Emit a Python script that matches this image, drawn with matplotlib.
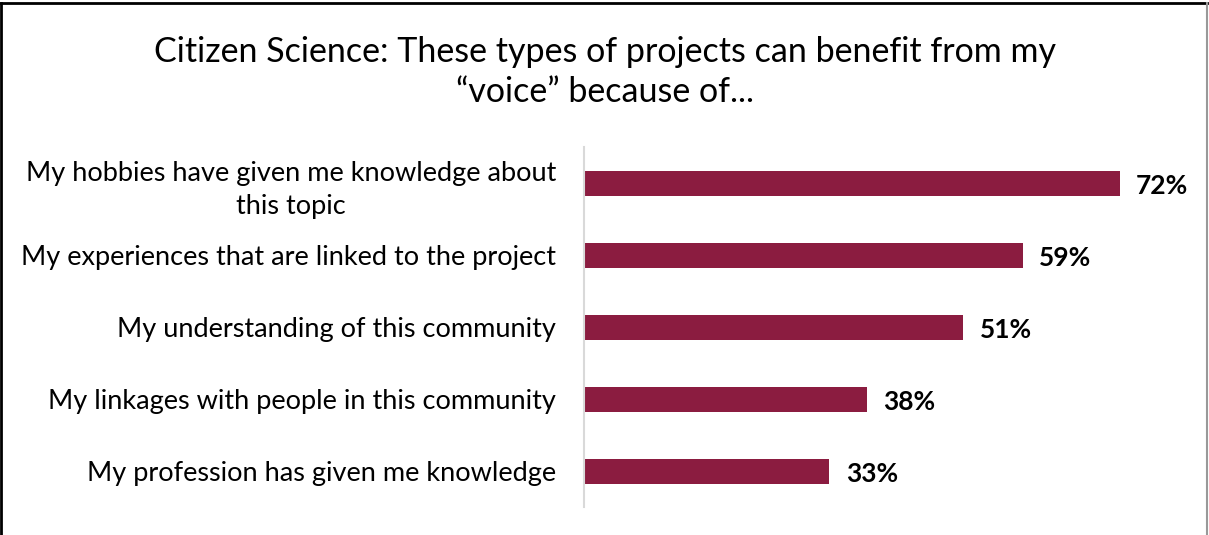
import matplotlib.pyplot as plt
from matplotlib.lines import Line2D

# Survey responses
categories = [
    "My hobbies have given me knowledge about\nthis topic",
    "My experiences that are linked to the project",
    "My understanding of this community",
    "My linkages with people in this community",
    "My profession has given me knowledge",
]
values = [72, 59, 51, 38, 33]

bar_color = "#8B1C40"
plt.rcParams['font.family'] = ['Lato', 'DejaVu Sans']

fig = plt.figure(figsize=(12.09, 5.35), dpi=100)
ax = fig.add_axes([0.483, 0.052, 0.491, 0.673])

pos = list(range(len(categories)))
ax.barh(pos, values, height=0.35, color=bar_color)
ax.set_ylim(len(categories) - 0.5, -0.5)
ax.set_xlim(0, 79.8)

for p, v in zip(pos, values):
    ax.text(v + 2.2, p + 0.04, f"{v}%", va="center", ha="left",
            fontsize=19, fontweight="bold", color="black")

ax.set_yticks(pos)
ax.set_yticklabels(categories, fontsize=19.5, ha="right", multialignment="center",
                   linespacing=1.4)
ax.tick_params(axis="y", length=0, pad=20)
ax.set_xticks([])
for side in ["top", "right", "bottom"]:
    ax.spines[side].set_visible(False)
ax.spines["left"].set_color("#D9D9D9")
ax.spines["left"].set_linewidth(1.5)

fig.text(0.5, 0.865, "Citizen Science: These types of projects can benefit from my\n\u201cvoice\u201d because of...",
         ha="center", va="center", fontsize=24.5, linespacing=1.3)

# outer frame
fig.add_artist(Line2D([0.001, 0.001], [0, 0.995], transform=fig.transFigure, color="black", lw=2))
fig.add_artist(Line2D([0.001, 0.998], [0.995, 0.995], transform=fig.transFigure, color="black", lw=2))
fig.add_artist(Line2D([0.998, 0.998], [0, 0.995], transform=fig.transFigure, color="#999999", lw=1.5))

fig.savefig("out.png", dpi=100)
